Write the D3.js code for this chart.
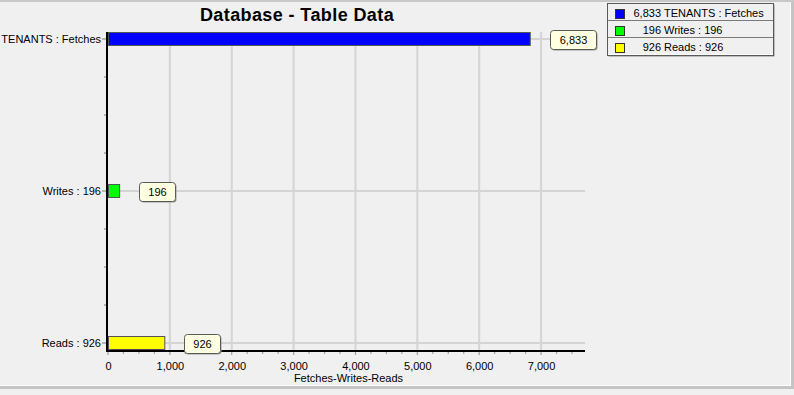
<!DOCTYPE html>
<html>
<head>
<meta charset="utf-8">
<script src="https://cdn.jsdelivr.net/npm/d3@7/dist/d3.min.js"></script>
<style>
  html, body { margin: 0; padding: 0; background: #f0f0f0; }
  svg { display: block; font-family: "Liberation Sans", Arial, sans-serif; }
</style>
</head>
<body>
<svg id="chart" width="794" height="395"></svg>
<script>
// ---- data ----
const categories = ["TENANTS : Fetches", "Writes : 196", "Reads : 926"];
const values = [6833, 196, 926];
const colors = ["#0000ff", "#00ff00", "#ffff00"];
const legendLabels = ["TENANTS : Fetches", "Writes : 196", "Reads : 926"];
const xTicks = [0, 1000, 2000, 3000, 4000, 5000, 6000, 7000];
const title = "Database - Table Data";
const xTitle = "Fetches-Writes-Reads";

// ---- layout ----
const W = 794, H = 395;
const plot = { left: 108, right: 585, top: 32, bottom: 350 };
const barH = 14;

const svg = d3.select("#chart");
const fmt = d3.format(",");

// frame
svg.append("rect").attr("x", 0).attr("y", 0).attr("width", W).attr("height", H).attr("fill", "#f0f0f0");
svg.append("rect").attr("x", 0).attr("y", 0).attr("width", W).attr("height", 2).attr("fill", "#c8c8c8");
svg.append("rect").attr("x", 0).attr("y", 385).attr("width", 791).attr("height", 1).attr("fill", "#ffffff");
svg.append("rect").attr("x", 790).attr("y", 2).attr("width", 1).attr("height", 384).attr("fill", "#ffffff");
svg.append("rect").attr("x", 0).attr("y", 386).attr("width", W).attr("height", 3).attr("fill", "#c4c4c4");
svg.append("rect").attr("x", 791).attr("y", 2).attr("width", 3).attr("height", 387).attr("fill", "#c4c4c4");

const x = d3.scaleLinear().domain([0, 7710]).range([plot.left, plot.right]);
const y = d3.scalePoint().domain(categories).range([plot.top + barH / 2, plot.bottom - barH / 2]);

// gridlines
const grid = svg.append("g");
grid.selectAll("line.v").data(xTicks.filter(d => d > 0)).join("line")
  .attr("x1", d => x(d)).attr("x2", d => x(d))
  .attr("y1", plot.top).attr("y2", plot.bottom)
  .attr("stroke", "#d4d4d4").attr("stroke-width", 2);
grid.selectAll("line.h").data(categories).join("line")
  .attr("x1", plot.left).attr("x2", plot.right)
  .attr("y1", d => y(d)).attr("y2", d => y(d))
  .attr("stroke", "#d4d4d4").attr("stroke-width", 2);

// bars
svg.append("g").selectAll("rect").data(values).join("rect")
  .attr("x", x(0) + 0.5)
  .attr("y", (d, i) => y(categories[i]) - barH / 2 + 0.5)
  .attr("width", d => x(d) - x(0) - 1)
  .attr("height", barH - 1)
  .attr("fill", (d, i) => colors[i])
  .attr("stroke", "#555555").attr("stroke-width", 1);

// x axis
const xAxisG = svg.append("g").attr("transform", `translate(0,${plot.bottom + 1})`);
const minorX = d3.range(0, 7710, 250);
xAxisG.selectAll("line.minor").data(minorX).join("line")
  .attr("x1", d => x(d)).attr("x2", d => x(d))
  .attr("y1", 1).attr("y2", d => d % 1000 === 0 ? 4 : 3)
  .attr("stroke", "#a0a0a0").attr("stroke-width", 1.2);
const xAxis = d3.axisBottom(x).tickValues(xTicks).tickFormat(fmt).tickSize(0).tickPadding(11);
const xa = svg.append("g").attr("transform", `translate(0,${plot.bottom + 1})`).call(xAxis);
xa.select(".domain").remove();
xa.selectAll("text").attr("font-size", 11).attr("fill", "#000").attr("font-family", "Liberation Sans, Arial, sans-serif");
svg.append("line").attr("x1", plot.left - 2).attr("x2", plot.right)
  .attr("y1", plot.bottom + 1).attr("y2", plot.bottom + 1)
  .attr("stroke", "#000").attr("stroke-width", 2);

// y axis
const pts = categories.map(c => y(c));
const step = pts[1] - pts[0];
const minorY = d3.range(pts[0], pts[2] + 1, step / 4);
svg.append("g").selectAll("line").data(minorY).join("line")
  .attr("x1", (d, i) => i % 4 === 0 ? plot.left - 6 : plot.left - 4)
  .attr("x2", plot.left - 2)
  .attr("y1", d => d).attr("y2", d => d)
  .attr("stroke", "#a0a0a0").attr("stroke-width", 1.5);
const yAxis = d3.axisLeft(y).tickSize(0).tickPadding(7);
const ya = svg.append("g").attr("transform", `translate(${plot.left},0)`).call(yAxis);
ya.select(".domain").remove();
ya.selectAll("text").attr("font-size", 11).attr("fill", "#000").attr("font-family", "Liberation Sans, Arial, sans-serif");
svg.append("line").attr("x1", plot.left - 1).attr("x2", plot.left - 1)
  .attr("y1", plot.top).attr("y2", plot.bottom + 2)
  .attr("stroke", "#000").attr("stroke-width", 2);

// value callouts
const callouts = svg.append("g");
values.forEach((v, i) => {
  const cy = y(categories[i]);
  const g = callouts.append("g");
  const t = g.append("text").text(fmt(v))
    .attr("font-size", 11).attr("text-anchor", "middle").attr("fill", "#000");
  const tw = t.node().getComputedTextLength();
  const bw = Math.round(tw + 18);
  const bx = Math.round(x(v) + 19);
  const by = Math.round(cy - 9.5);
  g.insert("rect", "text").attr("x", bx + 1.5).attr("y", by + 1.5).attr("width", bw).attr("height", 19)
    .attr("rx", 3).attr("fill", "#9a9a9a");
  g.insert("rect", "text").attr("x", bx + 0.5).attr("y", by + 0.5).attr("width", bw).attr("height", 19)
    .attr("rx", 3).attr("fill", "#ffffe1").attr("stroke", "#5a5a5a").attr("stroke-width", 1);
  t.attr("x", bx + 0.5 + bw / 2).attr("y", by + 14);
});

// title
svg.append("text").attr("x", 297).attr("y", 21).attr("text-anchor", "middle")
  .attr("font-size", 18).attr("font-weight", "bold").attr("letter-spacing", 0.4)
  .attr("fill", "#000").text(title);

// x title
svg.append("text").attr("x", (plot.left + plot.right) / 2 + 2).attr("y", 382).attr("text-anchor", "middle")
  .attr("font-size", 11).attr("fill", "#000").text(xTitle);

// legend
const lg = { x: 607, y: 3, w: 166, rowH: 17 };
const lgH = lg.rowH * categories.length + 1;
const leg = svg.append("g");
leg.append("rect").attr("x", lg.x + 1.5).attr("y", lg.y + 1.5).attr("width", lg.w).attr("height", lgH).attr("fill", "#8a8a8a");
leg.append("rect").attr("x", lg.x + 0.5).attr("y", lg.y + 0.5).attr("width", lg.w).attr("height", lgH)
  .attr("fill", "#ffffff").attr("stroke", "#5a5a5a");
categories.forEach((c, i) => {
  const ry = lg.y + i * lg.rowH;
  if (i > 0) {
    leg.append("line").attr("x1", lg.x + 1).attr("x2", lg.x + lg.w)
      .attr("y1", ry + 0.5).attr("y2", ry + 0.5).attr("stroke", "#7a7a7a");
  }
  leg.append("rect").attr("x", lg.x + 1).attr("y", ry + 1).attr("width", lg.w - 1).attr("height", lg.rowH - 1)
    .attr("fill", "#f0f0f0");
  leg.append("rect").attr("x", lg.x + 8.5).attr("y", ry + 6.5).attr("width", 9).attr("height", 9)
    .attr("fill", colors[i]).attr("stroke", "#333").attr("stroke-width", 1);
  leg.append("text").attr("x", 661).attr("y", ry + 14).attr("text-anchor", "end")
    .attr("font-size", 11).attr("fill", "#000").text(fmt(values[i]));
  leg.append("text").attr("x", 664).attr("y", ry + 14)
    .attr("font-size", 11).attr("fill", "#000").text(legendLabels[i]);
});
</script>
</body>
</html>
